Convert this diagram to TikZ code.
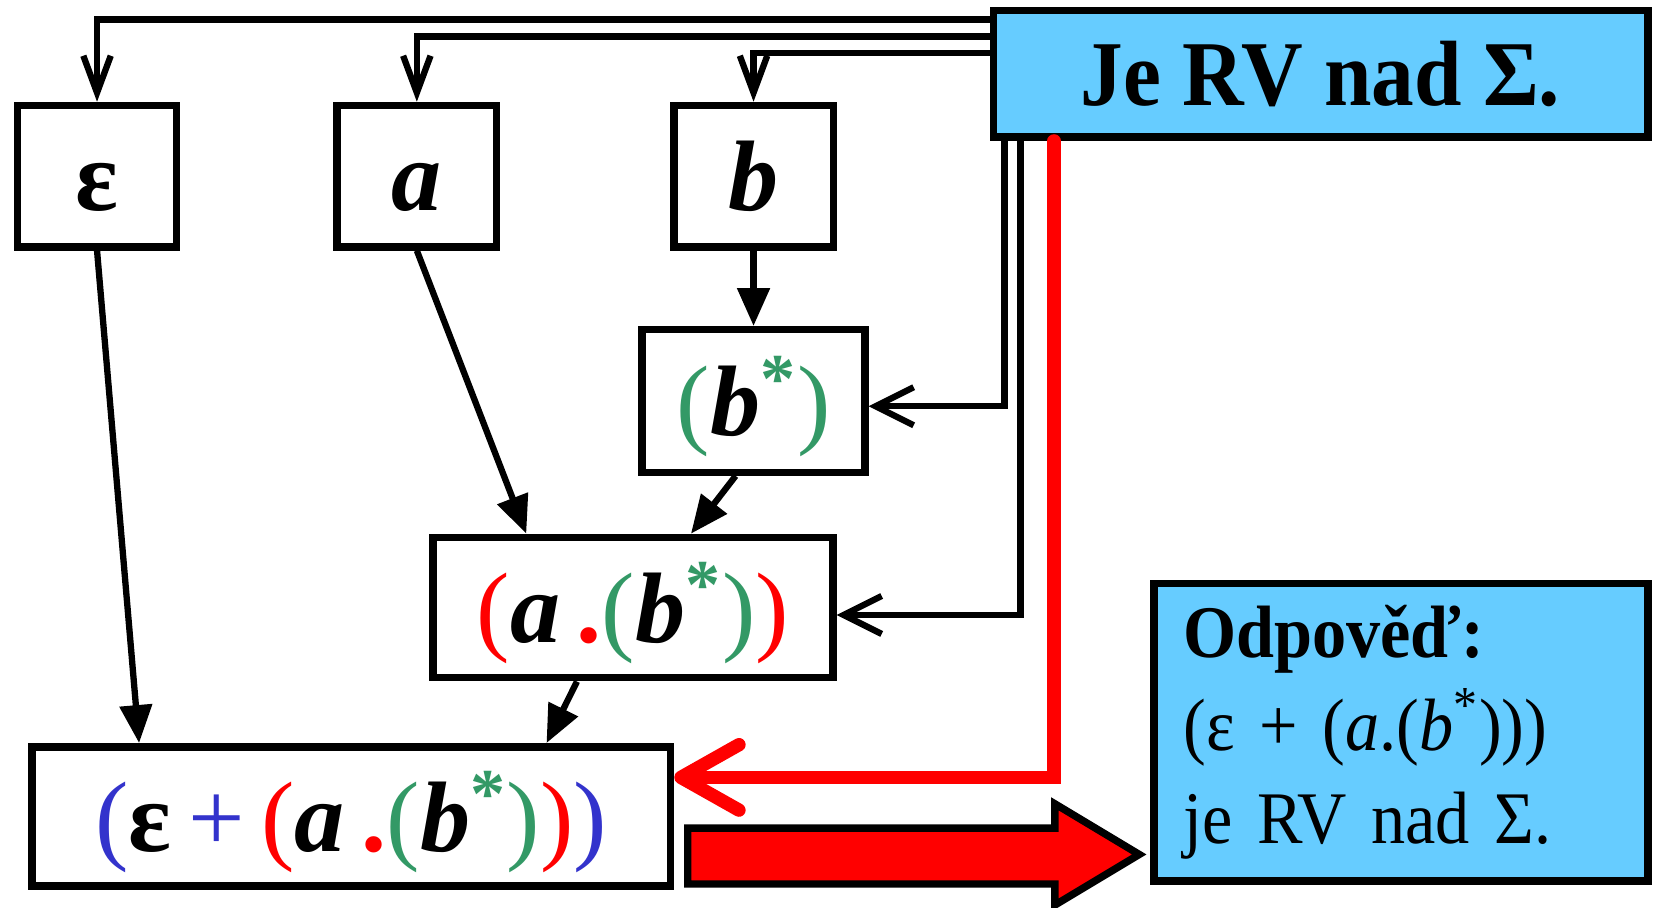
\documentclass[tikz,border=0pt]{standalone}
\usepackage{fontspec}
\setmainfont{Liberation Serif}
\newfontfamily\narrowserif[FakeStretch=0.92]{Liberation Serif}
\usetikzlibrary{arrows.meta,positioning}

\definecolor{rvblue}{HTML}{66CCFF}
\definecolor{rvgreen}{HTML}{339966}
\definecolor{rvplus}{HTML}{3333CC}
\definecolor{rvred}{HTML}{FF0000}

\newcommand{\syma}{\textbf{\textit{a}}}
\newcommand{\symb}{\textbf{\textit{b}}}
\newcommand{\gstar}{\textcolor{rvgreen}{\textsuperscript{\textbf{*}}}}
\newcommand{\gp}[1]{\textcolor{rvgreen}{#1}}
\newcommand{\rp}[1]{\textcolor{rvred}{#1}}
\newcommand{\bp}[1]{\textcolor{rvplus}{#1}}

\begin{document}
\begin{tikzpicture}[x=0.01cm, y=-0.01cm,
    cell/.style={draw, line width=2pt, inner sep=0pt, fill=white,
                 text height=0.86cm, text depth=0.2cm,
                 font=\fontsize{27}{32}\selectfont},
    small cell/.style={cell, minimum width=1.51cm, minimum height=1.34cm},
    info/.style={draw, line width=2pt, fill=rvblue, inner sep=0pt},
    feed/.style={line width=1.7pt, -{Straight Barb[length=0.35cm,width=0.26cm]}},
    side feed/.style={line width=1.7pt, -{Straight Barb[length=0.36cm,width=0.36cm]}},
    build/.style={line width=1.7pt, -{Triangle[length=0.36cm,width=0.3cm]}},
    result/.style={line width=3.6pt, rvred, line cap=round,
                   -{Straight Barb[length=0.55cm,width=0.62cm,round]}},
    bigarrow/.style={draw, line width=2pt, fill=rvred}]

  \useasboundingbox (0,0) rectangle (1568,860);

  \node[small cell] (eps) at (92,167) {\textbf{ε}};
  \node[small cell] (a) [right of=eps, node distance=3.03cm] {\syma};
  \node[small cell] (b) [right of=a, node distance=3.19cm] {\symb};
  \node[cell, minimum width=2.11cm, minimum height=1.35cm] (bstar)
    [below of=b, node distance=2.13cm] {\gp{(}\symb\gstar\gp{)}};
  \node[cell, minimum width=3.79cm, minimum height=1.33cm] (ab) at (600,576)
    {\rp{(}\syma\,\rp{\textbf{.}}\gp{(}\symb\gstar\gp{)}\rp{)}};
  \node[cell, minimum width=6.05cm, minimum height=1.32cm] (fin) at (333,774)
    {\bp{(}\textbf{ε}\,\bp{+}\,\rp{(}\syma\,\rp{\textbf{.}}\gp{(}\symb\gstar\gp{)}\rp{)}\bp{)}};

  \node[info, minimum width=6.2cm, minimum height=1.2cm,
        font=\narrowserif\fontsize{25}{30}\selectfont\bfseries] (rv) at (1252,70) {Je RV nad Σ.};
  \node[info, minimum width=4.68cm, minimum height=2.82cm, text width=4.12cm,
        align=left, font=\narrowserif\fontsize{20}{25}\selectfont] (ans) at (1328,694)
    {\textbf{Odpověď:}\\(ε + (\textit{a}.(\textit{b}\textsuperscript{*})))\\je RV nad Σ.\\[-0.2cm]};

  % leaves
  \draw[feed] ([yshift=-0.12cm]rv.north west) -| (eps);
  \draw[feed] ([yshift=-0.28cm]rv.north west) -| (a);
  \draw[feed] ([yshift=-0.44cm]rv.north west) -| (b);
  \draw[side feed] ([xshift=0.14cm]rv.south west) |- ([yshift=-0.05cm]bstar.east);
  \draw[side feed] ([xshift=0.29cm]rv.south west) |- ([yshift=-0.07cm]ab.east);
  \draw[result] ([xshift=0.61cm]rv.south west) |- ([yshift=0.37cm]fin.east);

  % building the expression
  \draw[build] (b) -- (bstar);
  \draw[build] (a.south) -- ([xshift=0.92cm]ab.north west);
  \draw[build] ([xshift=-0.17cm]bstar.south) -- ([xshift=0.55cm]ab.north);
  \draw[build] (eps.south) -- ([xshift=1.05cm]fin.north west);
  \draw[build] ([xshift=-0.53cm]ab.south) -- ([xshift=1.85cm]fin.north);

  \draw[bigarrow] (652,785) -- (1000,785) -- (1000,762) -- (1080,810)
    -- (1000,858) -- (1000,838) -- (652,838) -- cycle;
\end{tikzpicture}
\end{document}
